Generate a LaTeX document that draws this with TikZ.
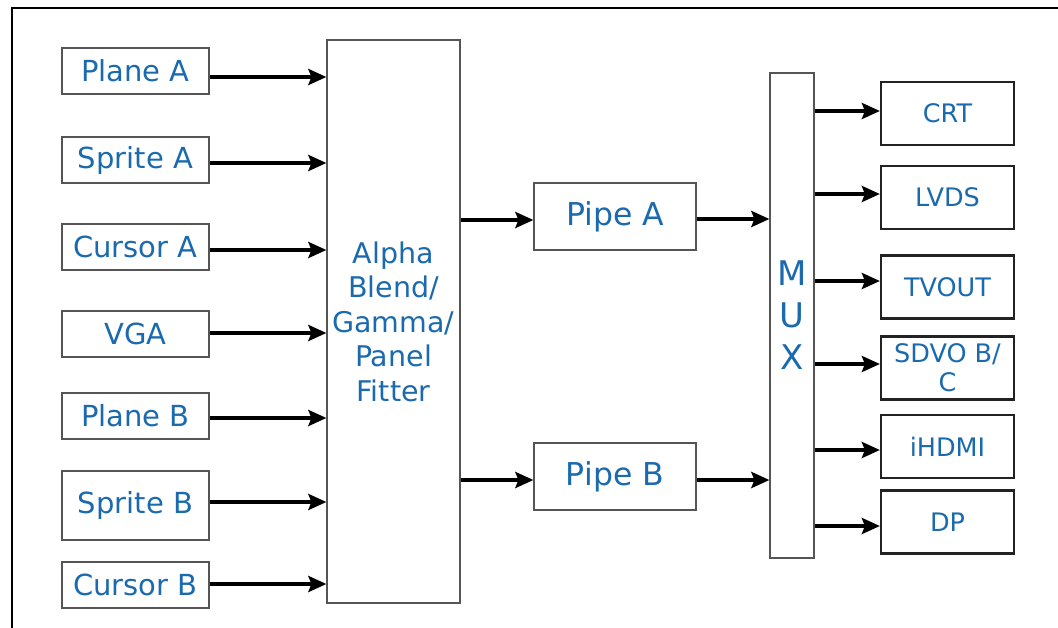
\documentclass[tikz,border=0pt]{standalone}
\usepackage{fontspec}
\setmainfont{DejaVu Sans}
\usetikzlibrary{arrows.meta}
\definecolor{label}{HTML}{1B6AAE}
\definecolor{edge}{HTML}{555555}
\definecolor{darkedge}{HTML}{222222}
\tikzset{
  inbox/.style={draw=edge, line width=1.2pt, text=label, inner sep=0pt,
    minimum width=147pt, minimum height=46pt, font=\fontsize{29}{34}\selectfont},
  bigbox/.style={draw=edge, line width=1.2pt, text=label, inner sep=0pt, align=center},
  pipebox/.style={bigbox, minimum width=162pt, minimum height=67pt,
    font=\fontsize{31.5}{36}\selectfont},
  outbox/.style={draw=darkedge, line width=2.2pt, text=label, inner sep=0pt, align=center,
    minimum width=133pt, minimum height=63pt, font=\fontsize{25.5}{29}\selectfont},
  link/.style={-{Stealth[length=18pt,width=16pt,inset=3pt]}, line width=3.6pt},
}

\begin{document}
\begin{tikzpicture}[x=1pt,y=-1pt]
  \useasboundingbox (0,0) rectangle (1058,627);
  \draw[line width=2.8pt] (12,640) |- (1070,8);

  % blending stage
  \node[bigbox, minimum width=133pt, minimum height=563pt,
    font=\fontsize{28.5}{34.5}\selectfont] (blend) at (393.5,321.5)
    {Alpha\\Blend/\\Gamma/\\Panel\\Fitter};

  % inputs
  \foreach \name/\txt/\y/\h/\ay in {planeA/Plane A/71/46/77, spriteA/Sprite A/160/46/163,
      cursorA/Cursor A/247/46/250, vga/VGA/334/46/333, planeB/Plane B/416/46/418,
      spriteB/Sprite B/505.5/69/502, cursorB/Cursor B/585/46/584}{
    \node[inbox, minimum height=\h pt] (\name) at (135.5,\y) {\txt};
    \draw[link] (\name.east |- 0,\ay) -- (blend.west |- 0,\ay);
  }

  % pipes
  \node[pipebox] (pipeA) at (615,216.5) {Pipe A};
  \node[pipebox] (pipeB) at (615,476.5) {Pipe B};
  \draw[link] (blend.east |- 0,220) -- (pipeA.west |- 0,220);
  \draw[link] (blend.east |- 0,480) -- (pipeB.west |- 0,480);

  \node[bigbox, minimum width=44pt, minimum height=485pt,
    font=\fontsize{34}{42}\selectfont] (mux) at (792,315.5) {M\\U\\X};
  \draw[link] (pipeA.east |- 0,219) -- (mux.west |- 0,219);
  \draw[link] (pipeB.east |- 0,480) -- (mux.west |- 0,480);

  % outputs
  \foreach \name/\txt/\y/\ay in {crt/CRT/113.5/111, lvds/LVDS/197.5/194,
      tvout/TVOUT/287/281, sdvo/{SDVO B/\\C}/368/364, hdmi/iHDMI/446.5/450, dp/DP/522/526}{
    \node[outbox] (\name) at (947.5,\y) {\txt};
    \draw[link] (mux.east |- 0,\ay) -- (\name.west |- 0,\ay);
  }
\end{tikzpicture}
\end{document}
